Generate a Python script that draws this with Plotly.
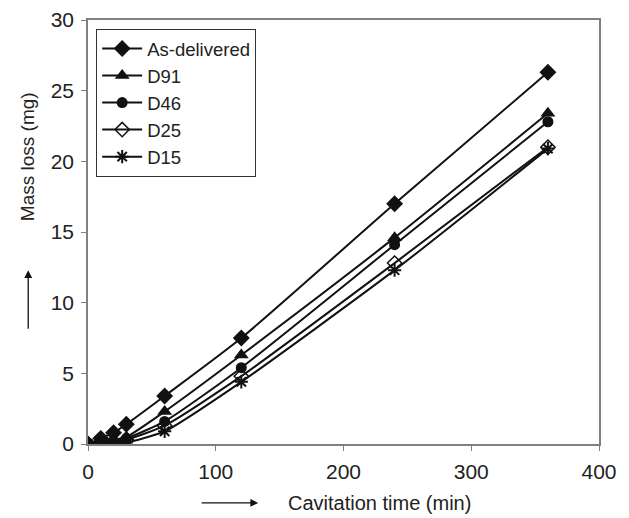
import plotly.graph_objects as go

time_min = [0, 10, 20, 30, 60, 120, 240, 360]
as_delivered = [0.0, 0.4, 0.8, 1.4, 3.4, 7.5, 17.0, 26.3]
d91 = [0.0, 0.15, 0.3, 0.5, 2.3, 6.3, 14.6, 23.4]
d46 = [0.0, 0.1, 0.2, 0.4, 1.6, 5.4, 14.1, 22.8]
d25 = [0.0, 0.05, 0.15, 0.3, 1.3, 4.8, 12.8, 21.0]
d15 = [0.0, 0.0, 0.05, 0.1, 0.9, 4.4, 12.3, 20.9]

series = [
    ("As-delivered", as_delivered, "diamond", 13, 0),
    ("D91", d91, "triangle-up", 13, 0),
    ("D46", d46, "circle", 11, 0),
    ("D25", d25, "diamond-open", 11, 1.5),
    ("D15", d15, "asterisk-open", 11, 2),
]

fig = go.Figure()
for name, vals, sym, size, lw in series:
    fig.add_trace(go.Scatter(
        x=time_min, y=vals, name=name, mode="lines+markers",
        line=dict(color="#111", width=2, shape="spline", smoothing=0.6),
        marker=dict(symbol=sym, size=size, color="#111",
                    line=dict(color="#111", width=lw)),
    ))

font = "Liberation Sans, Arial, sans-serif"
fig.update_layout(
    width=629, height=518,
    margin=dict(l=80, r=38, t=12, b=82, autoexpand=False),
    paper_bgcolor="white", plot_bgcolor="white",
    font=dict(family=font, size=21, color="#222"),
    showlegend=True,
    legend=dict(x=0.016, y=0.979, xanchor="left", yanchor="top",
                bordercolor="#333", borderwidth=1, bgcolor="white",
                font=dict(size=18.5), tracegroupgap=0, itemwidth=40),
    xaxis=dict(range=[0, 400], tickvals=[0, 100, 200, 300, 400],
               showline=True, linecolor="#808080", linewidth=1.5, mirror=True,
               ticks="outside", tickcolor="#808080", ticklen=5,
               ticklabelstandoff=3, automargin=False,
               showgrid=False, zeroline=False),
    yaxis=dict(range=[0, 30], tickvals=[0, 5, 10, 15, 20, 25, 30],
               showline=True, linecolor="#808080", linewidth=1.5, mirror=True,
               ticks="outside", tickcolor="#808080", ticklen=5,
               ticklabelstandoff=3, automargin=False,
               showgrid=False, zeroline=False),
    annotations=[
        dict(text="Mass loss (mg)", xref="paper", yref="paper",
             x=-0.117, y=0.677, xanchor="center", yanchor="middle",
             textangle=-90, showarrow=False, font=dict(size=19)),
        dict(text="", xref="paper", yref="paper", x=-0.117, y=0.41,
             ax=0, ay=60, axref="pixel", ayref="pixel", showarrow=True,
             arrowhead=2, arrowsize=1.2, arrowwidth=1.3, arrowcolor="#111"),
        dict(text="Cavitation time (min)", xref="paper", yref="paper",
             x=0.571, y=-0.139, xanchor="center", yanchor="middle",
             showarrow=False, font=dict(size=20)),
        dict(text="", xref="paper", yref="paper", x=0.333, y=-0.139,
             ax=-58, ay=0, axref="pixel", ayref="pixel", showarrow=True,
             arrowhead=2, arrowsize=1.2, arrowwidth=1.3, arrowcolor="#111"),
    ],
)

fig.write_html("out.html")
